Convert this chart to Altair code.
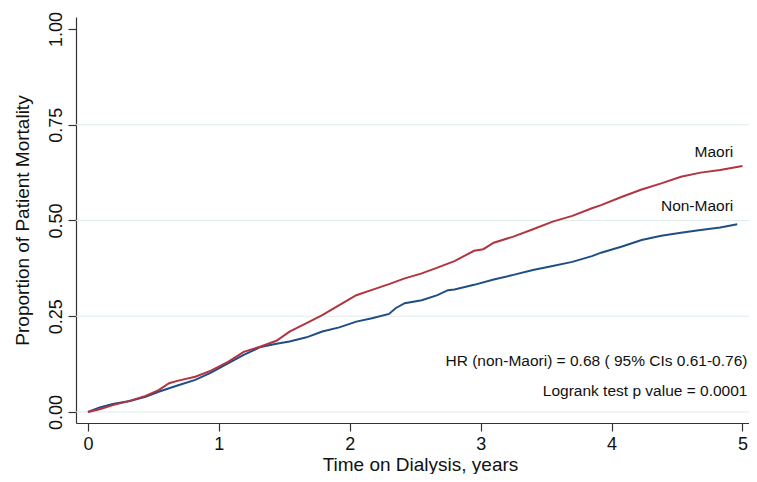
import altair as alt
import pandas as pd

# ---- data ----
maori_t = [0, 0.09, 0.19, 0.32, 0.44, 0.54, 0.62, 0.69, 0.82, 0.94,
           1.07, 1.19, 1.32, 1.44, 1.54, 1.67, 1.79, 1.92, 2.05, 2.17,
           2.30, 2.42, 2.55, 2.67, 2.80, 2.95, 3.02, 3.10, 3.25, 3.40,
           3.55, 3.70, 3.85, 3.92, 4.08, 4.23, 4.38, 4.53, 4.68, 4.83, 5.0]
maori_y = [0, 0.007, 0.018, 0.029, 0.042, 0.057, 0.075, 0.082, 0.092, 0.108,
           0.131, 0.157, 0.171, 0.186, 0.210, 0.232, 0.253, 0.279, 0.305, 0.319,
           0.334, 0.349, 0.362, 0.377, 0.394, 0.421, 0.425, 0.442, 0.458, 0.477,
           0.497, 0.512, 0.532, 0.540, 0.562, 0.581, 0.597, 0.614, 0.625, 0.632, 0.642]

nonmaori_t = [0, 0.09, 0.19, 0.32, 0.44, 0.54, 0.62, 0.69, 0.82, 0.94,
              1.07, 1.19, 1.32, 1.44, 1.54, 1.67, 1.79, 1.92, 2.05, 2.17,
              2.30, 2.35, 2.42, 2.55, 2.67, 2.75, 2.80, 2.95, 3.10, 3.25,
              3.40, 3.55, 3.70, 3.85, 3.92, 4.08, 4.23, 4.38, 4.53, 4.68,
              4.83, 4.96]
nonmaori_y = [0, 0.012, 0.021, 0.029, 0.040, 0.053, 0.062, 0.070, 0.084, 0.103,
              0.127, 0.149, 0.170, 0.178, 0.184, 0.195, 0.210, 0.221, 0.236, 0.245,
              0.256, 0.271, 0.284, 0.292, 0.305, 0.318, 0.320, 0.332, 0.346, 0.358,
              0.371, 0.381, 0.392, 0.407, 0.416, 0.432, 0.449, 0.460, 0.468, 0.475,
              0.482, 0.490]

groups = ["Non-Maori", "Maori"]
colors = ["#1f4e85", "#b1343f"]

y_ticks = [0, 0.25, 0.5, 0.75, 1.0]
grid_vals = [0, 0.25, 0.5, 0.75]
x_ticks = [0, 1, 2, 3, 4, 5]

series_labels = ["Maori", "Non-Maori"]
series_label_x = [4.93, 4.93]
series_label_y = [0.678, 0.538]

notes = ["HR (non-Maori) = 0.68 ( 95% CIs 0.61-0.76)", "Logrank test p value = 0.0001"]
notes_x = [5.0, 5.0]
notes_y = [0.133, 0.056]

# ---- build tables ----
lines_df = pd.concat([
    pd.DataFrame({"t": nonmaori_t, "v": nonmaori_y, "g": "Non-Maori", "o": 0}),
    pd.DataFrame({"t": maori_t, "v": maori_y, "g": "Maori", "o": 1}),
], ignore_index=True)
grid_df = pd.DataFrame({"t": [0.0] * len(grid_vals), "v": grid_vals})
lab_df = pd.DataFrame({"t": series_label_x, "v": series_label_y, "txt": series_labels})
note_df = pd.DataFrame({"t": notes_x, "v": notes_y, "txt": notes})

FONT = "Liberation Sans"
W, H = 673, 406
xs = alt.Scale(domain=[-0.0913, 5.05], nice=False, zero=False)
ys = alt.Scale(domain=[-0.0287, 1.0313], nice=False, zero=False)

x_axis = alt.Axis(
    values=x_ticks, format="d", title="Time on Dialysis, years",
    grid=False, domainColor="#333333", domainWidth=1.2,
    tickColor="#333333", tickSize=8, tickWidth=1.2,
    labelFont=FONT, labelFontSize=18, labelColor="#111111", labelPadding=4,
    titleFont=FONT, titleFontSize=19, titleFontWeight="normal", titleColor="#111111",
    titleX=344, titleY=47, titleBaseline="alphabetic", titleAlign="center",
    labelFlush=False)
y_axis = alt.Axis(
    values=y_ticks, format=".2f", title="Proportion of Patient Mortality",
    grid=False, domainColor="#333333", domainWidth=1.2,
    tickColor="#333333", tickSize=8, tickWidth=1.2,
    labelFont=FONT, labelFontSize=18, labelColor="#111111",
    labelAngle=-90, labelAlign="center", labelBaseline="alphabetic", labelPadding=7,
    labelFlush=False,
    titleFont=FONT, titleFontSize=19, titleFontWeight="normal", titleColor="#111111",
    titleAngle=-90, titleX=-48, titleY=203, titleBaseline="alphabetic",
    titleAlign="center")

X = alt.X("t:Q", scale=xs, axis=x_axis)
Y = alt.Y("v:Q", scale=ys, axis=y_axis)

grid = alt.Chart(grid_df).mark_rule(color="#dfeceb", strokeWidth=1.2).encode(
    y=Y
)

lines = alt.Chart(lines_df).mark_line(strokeWidth=2, interpolate="linear").encode(
    x=X, y=Y,
    color=alt.Color("g:N", scale=alt.Scale(domain=groups, range=colors), legend=None),
    order=alt.Order("o:Q"),
    detail="g:N",
)

labels = alt.Chart(lab_df).mark_text(
    font=FONT, fontSize=15.5, color="#111111", align="right", baseline="middle"
).encode(x=X, y=Y, text="txt:N")

notes_layer = alt.Chart(note_df).mark_text(
    font=FONT, fontSize=15.5, color="#111111", align="right", baseline="middle", dx=5
).encode(x=X, y=Y, text="txt:N")

chart = alt.layer(grid, lines, labels, notes_layer).properties(
    width=W, height=H,
    autosize=alt.AutoSizeParams(type="none"),
    padding={"left": 68, "top": 9, "right": 0, "bottom": 51},
    background="white",
).configure_view(stroke=None)

chart.save("out.html", embed_options={"renderer": "svg", "actions": False})
